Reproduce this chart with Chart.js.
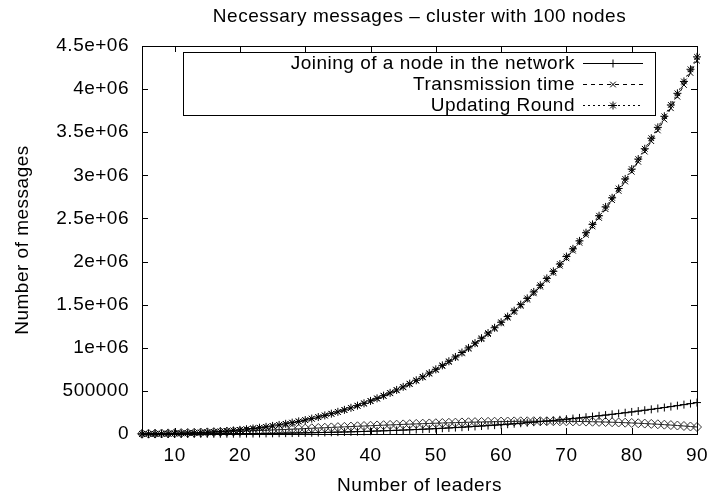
<!DOCTYPE html>
<html>
<head>
<meta charset="utf-8">
<script src="https://cdn.jsdelivr.net/npm/chart.js@4.4.1/dist/chart.umd.min.js"></script>
<style>
    html, body { margin: 0; padding: 0; background: #fff; }
    #wrap { width: 708px; height: 500px; }
</style>
</head>
<body>
<div id="wrap"><canvas id="messagesChart"></canvas></div>
<script>
// Number of leaders (x values)
const leaders = [5, 6, 7, 8, 9, 10, 11, 12, 13, 14, 15, 16, 17, 18, 19, 20, 21, 22, 23, 24,
    25, 26, 27, 28, 29, 30, 31, 32, 33, 34, 35, 36, 37, 38, 39, 40, 41, 42, 43, 44,
    45, 46, 47, 48, 49, 50, 51, 52, 53, 54, 55, 56, 57, 58, 59, 60, 61, 62, 63, 64,
    65, 66, 67, 68, 69, 70, 71, 72, 73, 74, 75, 76, 77, 78, 79, 80, 81, 82, 83, 84,
    85, 86, 87, 88, 89, 90];

// Joining of a node in the network (+)
const joining = [63, 108, 172, 256, 365, 500, 666, 864, 1099, 1372, 1688, 2048, 2457, 2916, 3430, 4000,
    4631, 5324, 6084, 6912, 7813, 8788, 9842, 10976, 12195, 13500, 14896, 16384, 17969, 19652,
    21438, 23328, 25327, 27436, 29660, 32000, 34461, 37044, 39754, 42592, 45563, 48668, 51912,
    55296, 58825, 62500, 66326, 70304, 74439, 78732, 83188, 87808, 92597, 97556, 102690, 108000,
    113491, 119164, 125024, 131072, 137313, 143748, 150382, 157216, 164255, 171500, 178956,
    186624, 194509, 202612, 210938, 219488, 228267, 237276, 246520, 256000, 265721, 275684,
    285894, 296352, 307063, 318028, 329252, 340736, 352485, 364500];

// Transmission time (x)
const transmission = [740, 1280, 2040, 3040, 4330, 5940, 7910, 10260, 13050, 16300, 20050, 24330,
    29180, 34640, 40740, 47520, 55010, 63250, 72270, 82110, 92810, 104400, 116920, 130390,
    144870, 160380, 176960, 194640, 213470, 233470, 254680, 277140, 300880, 325940, 352350,
    380160, 409390, 440080, 472270, 505990, 541280, 578180, 616710, 656920, 698840, 742500,
    787950, 835210, 884330, 935340, 988270, 1043160, 1100050, 1158970, 1219950, 1283040,
    1348270, 1415670, 1485280, 1557140, 1631270, 1707730, 1786530, 1867730, 1951340, 2037420,
    2125990, 2217090, 2310760, 2407030, 2505940, 2607520, 2711810, 2818840, 2928650, 3041280,
    3156760, 3275130, 3396410, 3520660, 3647900, 3778170, 3911510, 4047940, 4187520, 4330260];

// Updating Round (*)
const updating = [750, 1300, 2060, 3070, 4370, 6000, 7990, 10370, 13180, 16460, 20250, 24580,
    29480, 34990, 41150, 48000, 55570, 63890, 73000, 82940, 93750, 105460, 118100, 131710,
    146330, 162000, 178750, 196610, 215620, 235820, 257250, 279940, 303920, 329230, 355910,
    384000, 413530, 444530, 477040, 511100, 546750, 584020, 622940, 663550, 705890, 750000,
    795910, 843650, 893260, 944780, 998250, 1053700, 1111160, 1170670, 1232270, 1296000,
    1361890, 1429970, 1500280, 1572860, 1647750, 1724980, 1804580, 1886590, 1971050, 2058000,
    2147470, 2239490, 2334100, 2431340, 2531250, 2633860, 2739200, 2847310, 2958230, 3072000,
    3188650, 3308210, 3430720, 3556220, 3684750, 3816340, 3951020, 4088830, 4229810, 4374000];

// Unlabelled series drawn with diamonds
const diamonds = [2375, 3384, 4557, 5888, 7371, 9000, 10769, 12672, 14703, 16856, 19125, 21504,
    23987, 26568, 29241, 32000, 34839, 37752, 40733, 43776, 46875, 50024, 53217, 56448, 59711,
    63000, 66309, 69632, 72963, 76296, 79625, 82944, 86247, 89528, 92781, 96000, 99179, 102312,
    105393, 108416, 111375, 114264, 117077, 119808, 122451, 125000, 127449, 129792, 132023,
    134136, 136125, 137984, 139707, 141288, 142721, 144000, 145119, 146072, 146853, 147456,
    147875, 148104, 148137, 147968, 147591, 147000, 146189, 145152, 143883, 142376, 140625,
    138624, 136367, 133848, 131061, 128000, 124659, 121032, 117113, 112896, 108375, 103544,
    98397, 92928, 87131, 81000];

// Axis ticks
const xTicks = [10, 20, 30, 40, 50, 60, 70, 80, 90];
const yTicks = [0, 500000, 1000000, 1500000, 2000000, 2500000, 3000000, 3500000, 4000000, 4500000];
const yTickLabels = ['0', '500000', '1e+06', '1.5e+06', '2e+06', '2.5e+06', '3e+06', '3.5e+06', '4e+06', '4.5e+06'];

const chartTitle = 'Necessary messages \u2013 cluster with 100 nodes';

const FONT = '"Liberation Sans", Arial, Helvetica, sans-serif';
const FONT_SIZE = 19;

function toPoints(values) {
    return leaders.map((x, i) => ({ x: x, y: values[i] }));
}

// slightly wider text, like the gnuplot output
const spacingPlugin = {
    id: 'spacing',
    beforeDraw(chart) {
        chart.ctx.letterSpacing = '0.5px';
    }
};

// title centred over the plot area (gnuplot style)
const titlePlugin = {
    id: 'plotTitle',
    afterDraw(chart) {
        const ctx = chart.ctx;
        const a = chart.chartArea;
        ctx.save();
        ctx.font = FONT_SIZE + 'px ' + FONT;
        ctx.fillStyle = '#000';
        ctx.textAlign = 'center';
        ctx.textBaseline = 'middle';
        ctx.fillText(chartTitle, (a.left + a.right) / 2, 17);
        ctx.restore();
    }
};

// gnuplot-style frame with inward ticks on all four sides
const framePlugin = {
    id: 'frame',
    afterDraw(chart) {
        const ctx = chart.ctx;
        const a = chart.chartArea;
        const xs = chart.scales.x;
        const ys = chart.scales.y;
        ctx.save();
        ctx.strokeStyle = '#000';
        ctx.lineWidth = 1;
        ctx.beginPath();
        xTicks.forEach(v => {
            const px = Math.round(xs.getPixelForValue(v)) + 0.5;
            ctx.moveTo(px, a.bottom); ctx.lineTo(px, a.bottom - 6);
            ctx.moveTo(px, a.top); ctx.lineTo(px, a.top + 6);
        });
        yTicks.forEach(v => {
            const py = Math.round(ys.getPixelForValue(v)) + 0.5;
            ctx.moveTo(a.left, py); ctx.lineTo(a.left + 6, py);
            ctx.moveTo(a.right, py); ctx.lineTo(a.right - 6, py);
        });
        ctx.stroke();
        ctx.strokeRect(Math.round(a.left) + 0.5, Math.round(a.top) + 0.5,
            Math.round(a.right - a.left), Math.round(a.bottom - a.top));
        ctx.restore();
    }
};

// Legend box in the gnuplot layout: text right-aligned, sample line after it
const keyPlugin = {
    id: 'gnuKey',
    afterDraw(chart) {
        const ctx = chart.ctx;
        const a = chart.chartArea;
        const boxL = a.left + 41, boxR = a.right - 42;
        const boxT = a.top + 6, boxB = a.top + 69;
        ctx.save();
        ctx.strokeStyle = '#000';
        ctx.lineWidth = 1;
        ctx.strokeRect(Math.round(boxL) + 0.5, Math.round(boxT) + 0.5,
            Math.round(boxR - boxL), Math.round(boxB - boxT));
        ctx.font = FONT_SIZE + 'px ' + FONT;
        ctx.textAlign = 'right';
        ctx.textBaseline = 'middle';
        let row = 0;
        chart.data.datasets.forEach(ds => {
            if (!ds.label) return;
            const y = Math.round(boxT + 11 + row * 21) + 0.5;
            ctx.fillStyle = '#000';
            ctx.fillText(ds.label, boxR - 80, y);
            ctx.strokeStyle = ds.borderColor;
            ctx.setLineDash(ds.borderDash || []);
            ctx.beginPath();
            ctx.moveTo(boxR - 72, y);
            ctx.lineTo(boxR - 12, y);
            ctx.stroke();
            ctx.setLineDash([]);
            ctx.strokeStyle = ds.pointBorderColor;
            Chart.helpers.drawPoint(ctx, {
                pointStyle: ds.pointStyle,
                radius: ds.pointRadius,
                borderWidth: 1,
                rotation: 0
            }, boxR - 42, y);
            row++;
        });
        ctx.restore();
    }
};

function series(label, values, style, dash) {
    return {
        label: label,
        data: toPoints(values),
        borderColor: '#000',
        borderWidth: 1,
        borderDash: dash,
        pointStyle: style,
        pointRadius: 4,
        pointBorderColor: '#000',
        pointBackgroundColor: 'rgba(0,0,0,0)',
        pointBorderWidth: 1,
        fill: false,
        tension: 0,
        clip: 6
    };
}

const diamondSet = series('', diamonds, 'rectRot', []);
diamondSet.pointRadius = 4.5;
diamondSet.pointBorderColor = '#333';
diamondSet.borderColor = '#222';

new Chart(document.getElementById('messagesChart'), {
    type: 'line',
    data: {
        datasets: [
            series('Joining of a node in the network', joining, 'cross', []),
            series('Transmission time', transmission, 'crossRot', [4, 4]),
            series('Updating Round', updating, 'star', [2, 3]),
            diamondSet
        ]
    },
    options: {
        responsive: true,
        maintainAspectRatio: false,
        animation: false,
        layout: { padding: { left: 0, right: 11, top: 46, bottom: 0 } },
        plugins: {
            legend: { display: false },
            tooltip: { enabled: false },
            title: { display: false }
        },
        scales: {
            x: {
                type: 'linear',
                min: 5,
                max: 90,
                afterBuildTicks(scale) { scale.ticks = xTicks.map(v => ({ value: v })); },
                afterFit(scale) {
                    scale.height = 66;
                    scale.paddingLeft = 0;
                    scale.paddingRight = 0;
                },
                grid: { display: false, drawTicks: false },
                border: { display: false },
                ticks: {
                    color: '#000',
                    padding: 10,
                    maxRotation: 0,
                    font: { family: FONT, size: FONT_SIZE }
                },
                title: {
                    display: true,
                    text: 'Number of leaders',
                    color: '#000',
                    font: { family: FONT, size: FONT_SIZE },
                    padding: { top: 0, bottom: 3 }
                }
            },
            y: {
                type: 'linear',
                min: 0,
                max: 4500000,
                afterBuildTicks(scale) { scale.ticks = yTicks.map(v => ({ value: v })); },
                afterFit(scale) {
                    scale.width = 142;
                    scale.paddingTop = 0;
                    scale.paddingBottom = 0;
                },
                grid: { display: false, drawTicks: false },
                border: { display: false },
                ticks: {
                    color: '#000',
                    padding: 13,
                    font: { family: FONT, size: FONT_SIZE },
                    callback: function(value, index) { return yTickLabels[index]; }
                },
                title: {
                    display: true,
                    text: 'Number of messages',
                    color: '#000',
                    font: { family: FONT, size: FONT_SIZE },
                    padding: { top: 11, bottom: 0 }
                }
            }
        }
    },
    plugins: [spacingPlugin, titlePlugin, framePlugin, keyPlugin]
});
</script>
</body>
</html>
